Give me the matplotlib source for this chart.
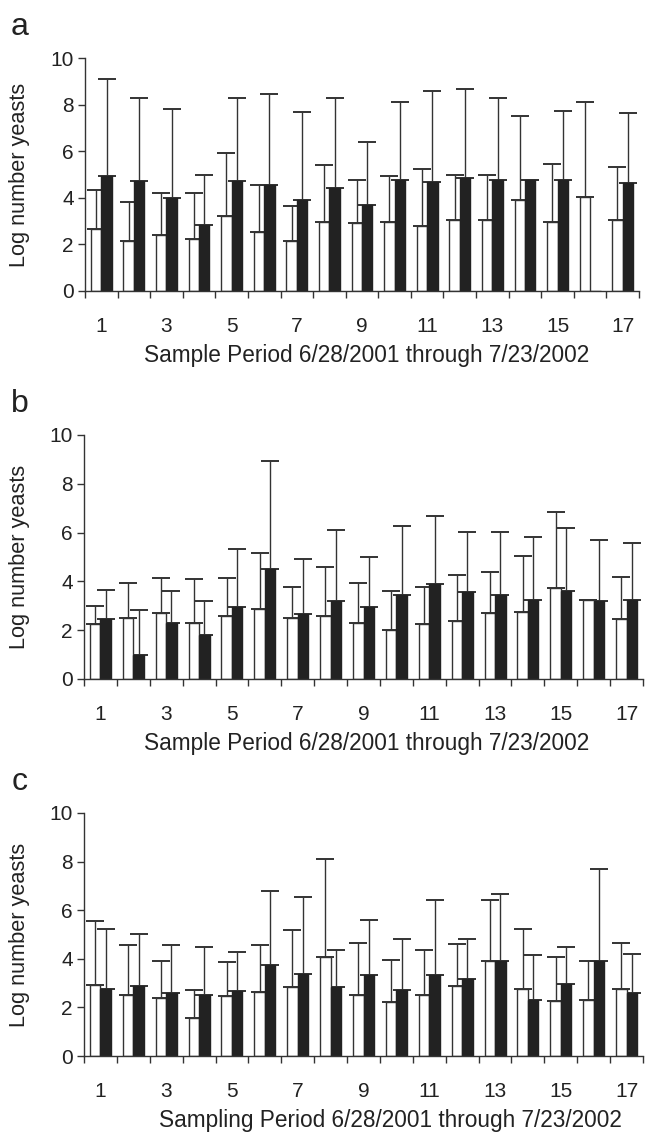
import numpy as np
import matplotlib
matplotlib.use('Agg')
import matplotlib.pyplot as plt

plt.rcParams['font.family'] = ['Liberation Sans', 'DejaVu Sans']

periods = list(range(1, 18))
tick_labels = [str(p) if p % 2 == 1 else '' for p in periods]

# panel a
a_white = [2.65, 2.15, 2.4, 2.25, 3.2, 2.55, 2.15, 2.95, 2.9, 2.95, 2.8, 3.05, 3.05, 3.9, 2.95, 4.05, 3.05]
a_white_top = [4.35, 3.83, 4.22, 4.22, 5.94, 4.55, 3.65, 5.4, 4.76, 4.92, 5.24, 5.0, 5.0, 7.5, 5.46, 8.13, 5.32]
a_black = [4.95, 4.7, 3.98, 2.82, 4.7, 4.55, 3.9, 4.4, 3.68, 4.76, 4.69, 4.85, 4.76, 4.76, 4.76, np.nan, 4.62]
a_black_top = [9.08, 8.3, 7.83, 5.0, 8.3, 8.45, 7.67, 8.27, 6.41, 8.13, 8.6, 8.67, 8.27, 4.76, 7.74, np.nan, 7.65]

# panel b
b_white = [2.27, 2.5, 2.69, 2.28, 2.58, 2.88, 2.51, 2.6, 2.3, 1.99, 2.27, 2.38, 2.69, 2.73, 3.72, 3.22, 2.45]
b_white_top = [2.99, 3.93, 4.13, 4.08, 4.13, 5.15, 3.78, 4.58, 3.92, 3.61, 3.78, 4.25, 4.4, 5.04, 6.86, 3.22, 4.18]
b_black = [2.44, 0.98, 2.31, 1.82, 2.95, 4.51, 2.65, 3.2, 2.96, 3.43, 3.89, 3.55, 3.44, 3.25, 3.61, 3.18, 3.25]
b_black_top = [3.66, 2.82, 3.59, 3.21, 5.31, 8.92, 4.93, 6.09, 5.0, 6.27, 6.69, 6.04, 6.04, 5.81, 6.2, 5.7, 5.56]

# panel c
c_white = [2.91, 2.5, 2.39, 1.58, 2.46, 2.65, 2.84, 4.07, 2.5, 2.22, 2.5, 2.88, 3.9, 2.76, 2.25, 2.3, 2.77]
c_white_top = [5.57, 4.58, 3.9, 2.73, 3.85, 4.58, 5.19, 8.11, 4.65, 3.94, 4.38, 4.61, 6.41, 5.21, 4.07, 3.9, 4.66]
c_black = [2.76, 2.89, 2.58, 2.53, 2.66, 3.73, 3.37, 2.83, 3.32, 2.7, 3.32, 3.17, 3.9, 2.29, 2.98, 3.9, 2.58]
c_black_top = [5.21, 5.03, 4.58, 4.5, 4.28, 6.8, 6.53, 4.38, 5.58, 4.8, 6.41, 4.83, 6.68, 4.14, 4.49, 7.68, 4.2]

panels = [
    ('a', a_white, a_white_top, a_black, a_black_top,
     'Sample Period 6/28/2001 through 7/23/2002', [85, 291, 639, 58], 0.509),
    ('b', b_white, b_white_top, b_black, b_black_top,
     'Sample Period 6/28/2001 through 7/23/2002', [84, 679, 643, 435], 0.506),
    ('c', c_white, c_white_top, c_black, c_black_top,
     'Sampling Period 6/28/2001 through 7/23/2002', [84, 1056, 643, 813], 0.549),
]

W, H = 656, 1138
fig = plt.figure(figsize=(W / 100, H / 100), dpi=100)

edge = '#333333'
width = 0.32

for letter, wv, wt, bv, bt, xlab, box, xl_pos in panels:
    x0, y0, x1, y1 = box
    ax = fig.add_axes([x0 / W, 1 - y0 / H, (x1 - x0) / W, (y0 - y1) / H])
    x = np.arange(len(periods))
    wv = np.array(wv); wt = np.array(wt)
    bv = np.array(bv); bt = np.array(bt)

    ax.bar(x - width / 2, wv, width, color='white', edgecolor=edge, linewidth=1.0, zorder=2)
    ax.bar(x + width / 2, np.nan_to_num(bv), width, color='#222222', edgecolor='#222222',
           linewidth=1.0, zorder=2)
    ax.errorbar(x - width / 2, wv, yerr=[np.zeros_like(wv), wt - wv], fmt='none',
                ecolor=edge, elinewidth=1.0, capsize=6.5, capthick=1.4, zorder=1)
    ok = ~np.isnan(bv)
    ax.errorbar((x + width / 2)[ok], bv[ok], yerr=[np.zeros(ok.sum()), (bt - bv)[ok]], fmt='none',
                ecolor=edge, elinewidth=1.0, capsize=6.5, capthick=1.4, zorder=1)

    ax.set_xlim(-0.5, len(periods) - 0.5)
    ax.set_ylim(0, 10)
    ax.set_yticks([0, 2, 4, 6, 8, 10])
    ax.set_xticks(np.arange(len(periods) + 1) - 0.5)
    ax.set_xticklabels([])
    ax.set_xticks(x, minor=True)
    ax.set_xticklabels(tick_labels, minor=True)
    ax.tick_params(axis='x', which='major', direction='out', length=5, width=1.0, color=edge)
    ax.tick_params(axis='x', which='minor', length=0, pad=19, labelsize=15, labelcolor='#222222')
    ax.tick_params(axis='y', direction='out', length=5, width=1.0, color=edge,
                   labelsize=15, labelcolor='#222222', pad=3)
    for s in ['top', 'right']:
        ax.spines[s].set_visible(False)
    for s in ['left', 'bottom']:
        ax.spines[s].set_color(edge)
        ax.spines[s].set_linewidth(1.0)

    ax.set_ylabel('Log number yeasts', fontsize=15.7, color='#222222')
    ax.yaxis.set_label_coords((30 - x0) / (x1 - x0), 0.5)
    ax.set_xlabel(xlab, fontsize=16.3, color='#222222')
    ax.xaxis.set_label_coords(xl_pos, -53 / (y0 - y1))
    fig.text(20 / W, 1 - (y1 - 31) / H, letter, fontsize=23, color='#222222',
             ha='center', va='center')

fig.savefig('out.png', dpi=100)
